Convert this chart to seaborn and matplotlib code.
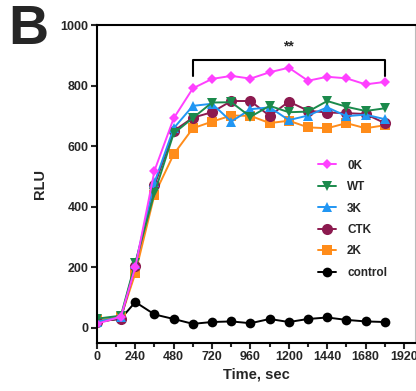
import numpy as np
import pandas as pd
import seaborn as sns
import matplotlib.pyplot as plt
from matplotlib.ticker import MultipleLocator

# time points (sec)
time_sec = [0, 150, 240, 360, 480, 600, 720, 840, 960, 1080, 1200, 1320, 1440, 1560, 1680, 1800]

# RLU values
rlu_0k = [13, 37, 200, 519, 692, 791, 822, 832, 823, 844, 859, 816, 829, 824, 804, 812]
rlu_wt = [30, 40, 215, 445, 642, 693, 744, 745, 697, 733, 712, 714, 749, 730, 716, 725]
rlu_3k = [20, 35, 210, 480, 659, 733, 740, 681, 722, 728, 686, 701, 728, 699, 704, 689]
rlu_ctk = [20, 30, 205, 470, 650, 694, 712, 749, 749, 700, 747, 717, 711, 709, 706, 676]
rlu_2k = [25, 35, 180, 440, 573, 659, 681, 701, 700, 676, 684, 662, 659, 676, 659, 669]
rlu_control = [20, 30, 85, 44, 29, 13, 19, 21, 15, 29, 19, 29, 34, 26, 21, 19]

groups = ['0K', 'WT', '3K', 'CTK', '2K', 'control']
values = [rlu_0k, rlu_wt, rlu_3k, rlu_ctk, rlu_2k, rlu_control]
colors = {'0K': '#ff40ff', 'WT': '#1b8a4c', '3K': '#2196f3',
          'CTK': '#8c1a4f', '2K': '#ff8c1a', 'control': '#000000'}
markers = {'0K': 'D', 'WT': 'v', '3K': '^', 'CTK': 'o', '2K': 's', 'control': 'o'}
msizes = {'0K': 5, 'WT': 7, '3K': 7, 'CTK': 8, '2K': 6.5, 'control': 7}

df = pd.DataFrame({'Time': time_sec * len(groups),
                   'RLU': sum(values, []),
                   'Group': np.repeat(groups, len(time_sec))})

sns.set_style('ticks')
plt.rcParams['font.family'] = ['Liberation Sans', 'DejaVu Sans']
plt.rcParams['font.weight'] = 'bold'

fig = plt.figure(figsize=(4.16, 3.91), dpi=100)
ax = fig.add_axes([0.233, 0.123, 0.765, 0.813])

# draw control first so the coloured series sit on top
for g in ['control', '2K', 'CTK', '3K', 'WT', '0K']:
    sns.lineplot(data=df[df['Group'] == g], x='Time', y='RLU', color=colors[g],
                 marker=markers[g], markersize=msizes[g], markeredgewidth=0,
                 linewidth=1.4, label=g, ax=ax)

# significance bracket
ax.plot([600, 600, 1800, 1800], [832, 884, 884, 833], color='black', lw=1.5)
ax.text(1200, 905, '**', ha='center', va='bottom', fontsize=10, fontweight='bold')

ax.set_xlim(0, 1990)
ax.set_ylim(-50, 1000)
ax.xaxis.set_major_locator(MultipleLocator(240))
ax.xaxis.set_minor_locator(MultipleLocator(120))
ax.yaxis.set_major_locator(MultipleLocator(200))
ax.tick_params(axis='both', which='major', labelsize=9, width=1.5, length=4, direction='out', pad=2)
ax.tick_params(axis='x', which='minor', width=1.5, length=3)
for lab in ax.get_xticklabels() + ax.get_yticklabels():
    lab.set_fontweight('bold')

for s in ['left', 'bottom', 'top']:
    ax.spines[s].set_linewidth(1.5)
    ax.spines[s].set_color('black')
ax.spines['right'].set_color('#bbbbbb')
ax.spines['right'].set_linewidth(0.8)

ax.set_xlabel('Time, sec', fontsize=10.5, fontweight='bold', labelpad=3)
ax.set_ylabel('RLU', fontsize=10.5, fontweight='bold', labelpad=10)

handles, labels = ax.get_legend_handles_labels()
order = [labels.index(g) for g in groups]
ax.legend([handles[i] for i in order], groups, loc='upper left',
          bbox_to_anchor=(0.66, 0.61), frameon=False,
          handlelength=1.6, handletextpad=0.9, labelspacing=0.8,
          prop={'weight': 'bold', 'size': 8.5})

fig.text(0.02, 0.99, 'B', fontsize=40, fontweight='bold', va='top', ha='left')

fig.savefig('out.png', dpi=100)
